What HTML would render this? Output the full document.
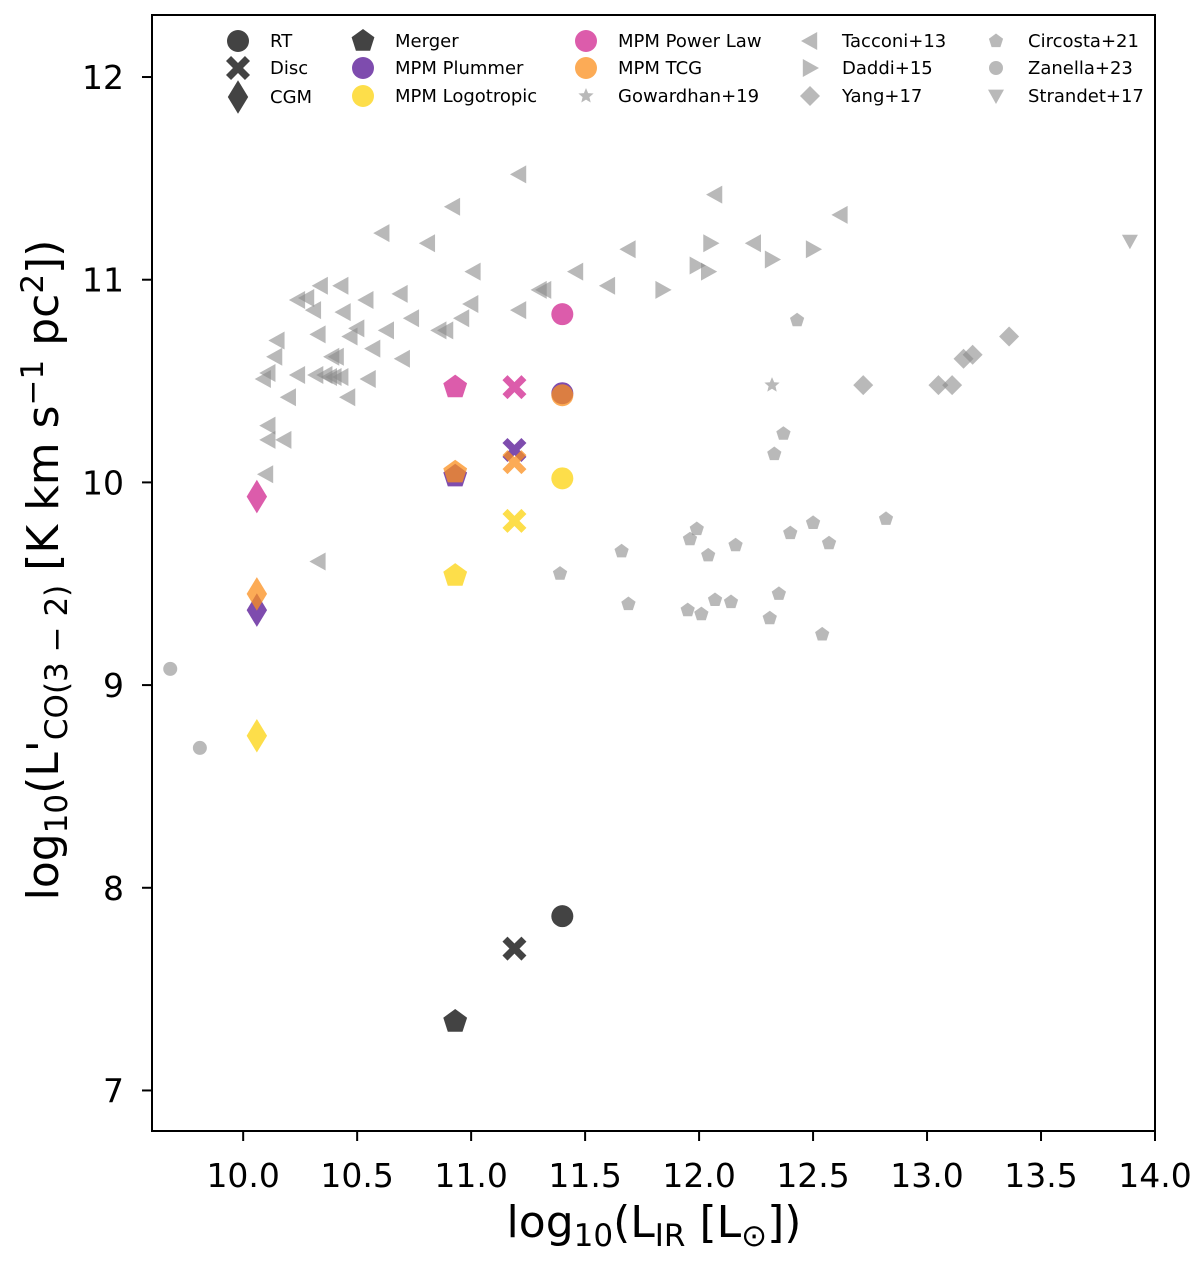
<!DOCTYPE html>
<html><head><meta charset="utf-8"><style>
body{margin:0;background:#fff}
svg{display:block;font-family:"DejaVu Sans","Liberation Sans",sans-serif}
</style></head><body>
<svg id="chart" width="1200" height="1264" viewBox="0 0 1200 1264"></svg>
<script>
// ---- data ----
const xTicks=[10.0,10.5,11.0,11.5,12.0,12.5,13.0,13.5,14.0];
const yTicks=[7,8,9,10,11,12];
const tacconiX=[11.21,10.92,10.61,12.07,12.62,10.81,12.24,11.01,11.69,11.60,11.46,11.32,11.30,11.21,11.00,10.69,10.54,10.34,10.28,10.24,10.31,10.43,10.74,10.44,10.33,10.15,10.89,10.86,10.63,10.50,10.47,10.96,10.70,10.57,10.41,10.39,10.24,10.14,10.11,10.09,10.32,10.36,10.38,10.40,10.43,10.55,10.20,10.46,10.11,10.11,10.18,10.10,10.33];
const tacconiY=[11.52,11.36,11.23,11.42,11.32,11.18,11.18,11.04,11.15,10.97,11.04,10.95,10.95,10.85,10.88,10.93,10.90,10.97,10.91,10.90,10.85,10.97,10.81,10.84,10.73,10.70,10.75,10.75,10.75,10.76,10.72,10.81,10.61,10.66,10.62,10.62,10.53,10.62,10.54,10.51,10.53,10.53,10.52,10.52,10.52,10.51,10.42,10.42,10.28,10.21,10.21,10.04,9.61];
const daddiX=[11.99,12.05,12.04,11.84,12.32,12.50];
const daddiY=[11.07,11.18,11.04,10.95,11.10,11.15];
const circostaX=[11.39,11.66,11.69,11.96,11.99,12.04,11.95,12.01,12.07,12.14,12.16,12.31,12.35,12.43,12.37,12.33,12.40,12.50,12.57,12.54,12.82];
const circostaY=[9.55,9.66,9.40,9.72,9.77,9.64,9.37,9.35,9.42,9.41,9.69,9.33,9.45,10.80,10.24,10.14,9.75,9.80,9.70,9.25,9.82];
const gowardhanX=[12.32], gowardhanY=[10.48];
const zanellaX=[9.68,9.81], zanellaY=[9.08,8.69];
const yangX=[12.72,13.05,13.11,13.16,13.20,13.36];
const yangY=[10.48,10.48,10.48,10.61,10.63,10.72];
const strandetX=[13.89], strandetY=[11.19];
// models: order RT, Merger, Disc, CGM
const modelNames=["RT","Merger","Disc","CGM"];
const modelX=[11.40,10.93,11.19,10.06];
const obsY=[7.86,7.34,7.70,null];
const plummerY=[10.44,10.03,10.16,9.37];
const powerLawY=[10.83,10.47,10.47,9.93];
const tcgY=[10.43,10.05,10.10,9.45];
const logoY=[10.02,9.54,9.81,8.75];

// ---- axes ----
const L=152,R=1155,T=15,B=1131, X0=9.6,X1=14.0,Y0=6.8,Y1=12.306;
const sx=v=>L+(v-X0)/(X1-X0)*(R-L);
const sy=v=>B-(v-Y0)/(Y1-Y0)*(B-T);
const NS="http://www.w3.org/2000/svg";
const svg=document.getElementById('chart');
function mk(tag,attrs,parent){const e=document.createElementNS(NS,tag);for(const k in attrs)e.setAttribute(k,attrs[k]);(parent||svg).appendChild(e);return e;}

const shapes={
 circle:(x,y,s)=>['circle',{cx:x,cy:y,r:s}],
 tri_l:(x,y,s)=>['polygon',{points:`${x-s},${y} ${x+s*0.8},${y-s} ${x+s*0.8},${y+s}`}],
 tri_r:(x,y,s)=>['polygon',{points:`${x+s},${y} ${x-s*0.8},${y-s} ${x-s*0.8},${y+s}`}],
 tri_d:(x,y,s)=>['polygon',{points:`${x},${y+s} ${x-s},${y-s*0.8} ${x+s},${y-s*0.8}`}],
 diamond:(x,y,s)=>['polygon',{points:`${x},${y-s} ${x+s},${y} ${x},${y+s} ${x-s},${y}`}],
 thindiamond:(x,y,s)=>['polygon',{points:`${x},${y-s*1.4} ${x+s*0.85},${y} ${x},${y+s*1.4} ${x-s*0.85},${y}`}],
 pent:(x,y,s)=>{let p=[];for(let i=0;i<5;i++){const a=-Math.PI/2+i*2*Math.PI/5;p.push((x+s*Math.cos(a)).toFixed(1)+','+(y+s*Math.sin(a)).toFixed(1));}return['polygon',{points:p.join(' ')}];},
 star:(x,y,s)=>{let p=[];for(let i=0;i<10;i++){const a=-Math.PI/2+i*Math.PI/5,r=i%2?s*0.45:s;p.push((x+r*Math.cos(a)).toFixed(1)+','+(y+r*Math.sin(a)).toFixed(1));}return['polygon',{points:p.join(' ')}];},
 cross:(x,y,s)=>{const w=s*0.42;const pts=[[0,-w],[s-w,-s],[s,-s+w],[w,0],[s,s-w],[s-w,s],[0,w],[-s+w,s],[-s,s-w],[-w,0],[-s,-s+w],[-s+w,-s]];return['polygon',{points:pts.map(p=>(x+p[0])+','+(y+p[1])).join(' ')}];}
};
function marker(shape,x,y,s,fill,op,name,parent){const [t,a]=shapes[shape](x,y,s);a.fill=fill;a['fill-opacity']=op;const e=mk(t,a,parent);return e;}

// frame
const frame=mk('rect',{x:L,y:T,width:R-L,height:B-T,fill:'none',stroke:'#000','stroke-width':2});


xTicks.forEach(v=>{const x=sx(v);mk('line',{x1:x,y1:B,x2:x,y2:B+10,stroke:'#000','stroke-width':2});
 const t=mk('text',{x:x,y:1187,'font-size':33,'text-anchor':'middle'});t.textContent=v.toFixed(1);
 
 });
yTicks.forEach(v=>{const y=sy(v);mk('line',{x1:L-10,y1:y,x2:L,y2:y,stroke:'#000','stroke-width':2});
 const t=mk('text',{x:124,y:y+12,'font-size':33,'text-anchor':'end'});t.textContent=v;
 
 });
const xl=mk('text',{x:654,y:1237,'font-size':44,'text-anchor':'middle'});
xl.innerHTML='log<tspan font-size="31" dy="9">10</tspan><tspan dy="-9">(L</tspan><tspan font-size="31" dy="9">IR</tspan><tspan dy="-9"> [L</tspan><tspan font-size="31" dy="9">⊙</tspan><tspan dy="-9">])</tspan>';


const yl=mk('text',{x:0,y:0,'font-size':44,'text-anchor':'middle',transform:'translate(58,570) rotate(-90)'});
yl.innerHTML='log<tspan font-size="31" dy="9">10</tspan><tspan dy="-9">(L\'</tspan><tspan font-size="31" dy="9">CO(3 − 2)</tspan><tspan dy="-9"> [K km s</tspan><tspan font-size="31" dy="-15">−1</tspan><tspan dy="15"> pc</tspan><tspan font-size="31" dy="-15">2</tspan><tspan dy="15">])</tspan>';



// observational data
const G='#8a8a8a',GO=0.6;
tacconiX.forEach((v,i)=>marker('tri_l',sx(v),sy(tacconiY[i]),9,G,GO,'tacconi-point'));
daddiX.forEach((v,i)=>marker('tri_r',sx(v),sy(daddiY[i]),9,G,GO,'daddi-point'));
circostaX.forEach((v,i)=>marker('pent',sx(v),sy(circostaY[i]),7.5,G,GO,'circosta-point'));
gowardhanX.forEach((v,i)=>marker('star',sx(v),sy(gowardhanY[i]),8,G,GO,'gowardhan-point'));
zanellaX.forEach((v,i)=>marker('circle',sx(v),sy(zanellaY[i]),7,G,GO,'zanella-point'));
yangX.forEach((v,i)=>marker('diamond',sx(v),sy(yangY[i]),10,G,GO,'yang-point'));
strandetX.forEach((v,i)=>marker('tri_d',sx(v),sy(strandetY[i]),8,G,GO,'strandet-point'));

// models
const shapeFor=['circle','pent','cross','thindiamond'];
const sizeFor=[11,12.5,12,12];
function series(arr,color,op,label){arr.forEach((v,i)=>{if(v==null)return;marker(shapeFor[i],sx(modelX[i]),sy(v),sizeFor[i],color,op,label+'-'+modelNames[i].toLowerCase());});}
series(obsY,'#222222',0.85,'observed');
series(plummerY,'#5e1f9a',0.8,'mpm-plummer');
series(powerLawY,'#d6409c',0.85,'mpm-power-law');
series(tcgY,'#fb8f1e',0.75,'mpm-tcg');
series(logoY,'#fdd82a',0.85,'mpm-logotropic');

// legend
const leg=mk('g',{});


const entries=[
 [238,41,'circle',11,'#222',0.85,'RT'],[238,68,'cross',12,'#222',0.85,'Disc'],[238,97,'thindiamond',12,'#222',0.85,'CGM'],
 [363,41,'pent',12,'#222',0.85,'Merger'],[363,68,'circle',11,'#5e1f9a',0.8,'MPM Plummer'],[363,96,'circle',11,'#fdd82a',0.85,'MPM Logotropic'],
 [586,41,'circle',11,'#d6409c',0.85,'MPM Power Law'],[586,68,'circle',11,'#fb8f1e',0.75,'MPM TCG'],[586,96,'star',8,G,GO,'Gowardhan+19'],
 [810,41,'tri_l',9,G,GO,'Tacconi+13'],[810,68,'tri_r',9,G,GO,'Daddi+15'],[810,96,'diamond',10,G,GO,'Yang+17'],
 [996,41,'pent',7.5,G,GO,'Circosta+21'],[996,68,'circle',7,G,GO,'Zanella+23'],[996,96,'tri_d',8,G,GO,'Strandet+17']];
entries.forEach(e=>{marker(e[2],e[0],e[1],e[3],e[4],e[5],'legend-marker',leg);
 const t=mk('text',{x:e[0]+32,y:e[1]+6,'font-size':18},leg);t.textContent=e[6];
 
 });
</script>
</body></html>
